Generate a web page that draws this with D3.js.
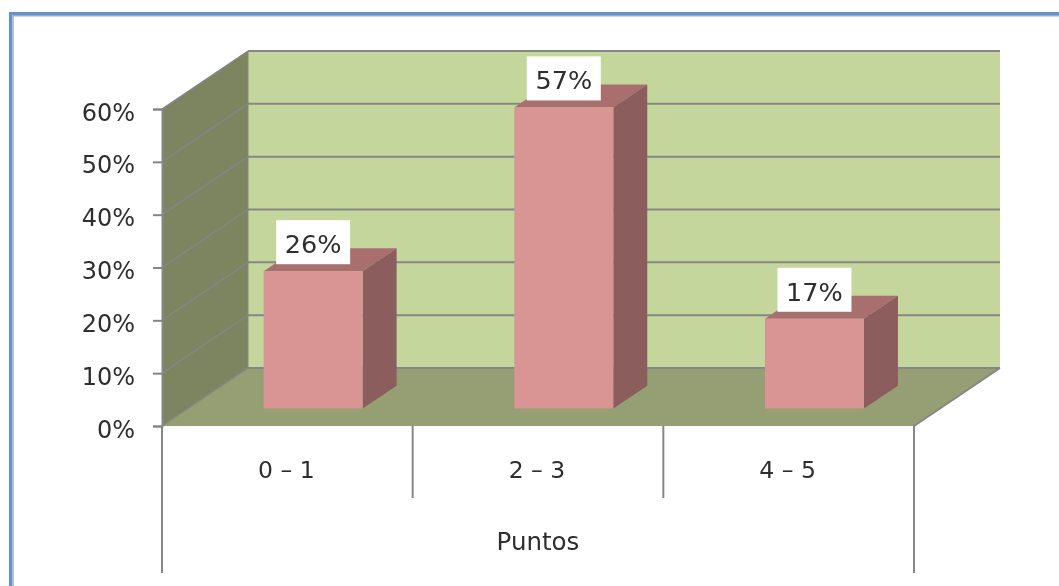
<!DOCTYPE html>
<html>
<head>
<meta charset="utf-8">
<script src="https://cdn.jsdelivr.net/npm/d3@7/dist/d3.min.js"></script>
<style>
html,body{margin:0;padding:0;background:#fff;overflow:hidden}
svg{display:block;filter:blur(0.4px)}
text{font-family:"DejaVu Sans",sans-serif;fill:#2e2e2e;stroke:none}
</style>
</head>
<body>
<svg id="c" width="1059" height="586"></svg>
<script>
const categories = ["0 – 1", "2 – 3", "4 – 5"];
const values = [26, 57, 17];
const valueLabels = ["26%", "57%", "17%"];
const yTicks = [0, 10, 20, 30, 40, 50, 60];
const axisTitle = "Puntos";

const svg = d3.select("#c");
const x = d3.scaleBand().domain(categories).range([162, 914]);
const y = d3.scaleLinear().domain([0, 60]).range([426, 109]);
const dx = 86, dy = -58;               // full depth of the 3-D box
const d0 = 0.3, d1 = 0.695;            // bar depth span
const barW = 99;
const P = (px, py, d) => [px + dx * d, py + dy * d];
const poly = (pts, fill) => svg.append("polygon")
  .attr("points", pts.map(p => p.join(",")).join(" "))
  .attr("fill", fill);
const line = (pts, w) => svg.append("polyline")
  .attr("points", pts.map(p => p.join(",")).join(" "))
  .attr("fill", "none").attr("stroke", grid).attr("stroke-width", w);

const L = 162, R = 914, yTop = y(60), base = y(0);
const grid = "#868686";

// frame
svg.append("rect").attr("x", 10.5).attr("y", 13.5).attr("width", 1100).attr("height", 700)
  .attr("fill", "none").attr("stroke", "#5b94cf").attr("stroke-width", 3);
svg.append("rect").attr("x", 13).attr("y", 15.75).attr("width", 1100).attr("height", 700)
  .attr("fill", "none").attr("stroke", "#a9a9a9").attr("stroke-width", 1.5);

// back wall, side wall, floor
poly([P(L, yTop, 1), P(R, yTop, 1), P(R, base, 1), P(L, base, 1)], "#c4d69b");
poly([P(L, yTop, 0), P(L, yTop, 1), P(L, base, 1), P(L, base, 0)], "#7d8560");
poly([P(L, base, 0), P(L, base, 1), P(R, base, 1), P(R, base, 0)], "#969f73");

// gridlines
yTicks.forEach(t => {
  line([P(L, y(t), 0), P(L, y(t), 1)], 1.5);
  line([P(L, y(t), 1), P(R, y(t), 1)], 2);
});
line([P(L, base, 1), P(L, yTop, 1)], 1);
line([P(R, base, 1), P(R, base, 0)], 2);

// bars
categories.forEach((c, i) => {
  const cx = x(c) + x.bandwidth() / 2;
  const l = cx - barW / 2, r = cx + barW / 2;
  const yb = y(0), yt = y(values[i]);
  poly([P(l, yt, d0), P(l, yt, d1), P(r, yt, d1), P(r, yt, d0)], "#a86f6e");
  poly([P(r, yt, d0), P(r, yt, d1), P(r, yb, d1), P(r, yb, d0)], "#8b5d5c");
  poly([P(l, yt, d0), P(r, yt, d0), P(r, yb, d0), P(l, yb, d0)], "#d99594");
  const [tx, ty] = P(cx, yt, d0);
  const bw = 74, bh = 44;
  svg.append("rect").attr("x", tx - bw / 2).attr("y", ty - 51).attr("width", bw).attr("height", bh).attr("fill", "#fff");
  svg.append("text").attr("x", tx).attr("y", ty - 18).attr("text-anchor", "middle")
    .attr("font-size", 25.5).text(valueLabels[i]);
});

// y axis
const yAxis = d3.axisLeft(y).tickValues(yTicks).tickFormat(d => d + "%").tickSize(9).tickPadding(18);
const gy = svg.append("g").attr("transform", `translate(${L},0)`).call(yAxis);
gy.selectAll(".domain,line").attr("stroke", grid).attr("stroke-width", 2);
gy.selectAll("text").attr("font-size", 24).attr("fill", "#2e2e2e").attr("dy", "0.46em")
  .style("font-family", '"DejaVu Sans",sans-serif');

// category axis
const boundaries = categories.map(c => x(c)).concat([x.range()[1]]);
boundaries.forEach((b, i) => {
  svg.append("line").attr("x1", b).attr("x2", b).attr("y1", base)
    .attr("y2", (i === 0 || i === 3) ? 573 : 498).attr("stroke", grid).attr("stroke-width", 2);
});
categories.forEach(c => {
  svg.append("text").attr("x", x(c) + x.bandwidth() / 2 - 1).attr("y", 478).attr("text-anchor", "middle")
    .attr("font-size", 23.5).text(c);
});
svg.append("text").attr("x", (L + R) / 2).attr("y", 550).attr("text-anchor", "middle")
  .attr("font-size", 24.5).text(axisTitle);
</script>
</body>
</html>
